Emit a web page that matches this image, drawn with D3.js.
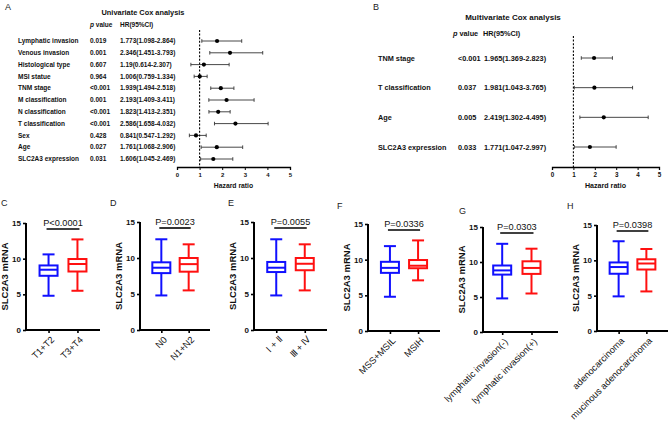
<!DOCTYPE html>
<html>
<head>
<meta charset="utf-8">
<script src="https://cdn.jsdelivr.net/npm/d3@7"></script>
<style>
  body { margin: 0; background: #fff; }
  svg { font-family: Arial, "Liberation Sans", sans-serif; }
</style>
</head>
<body>
<svg id="fig" width="669" height="426"></svg>
<script>
// univariate cox
const uniVars = ['Lymphatic invasion', 'Venous invasion', 'Histological type', 'MSI statue', 'TNM stage',
  'M classification', 'N classification', 'T classification', 'Sex', 'Age', 'SLC2A3 expression'];
const uniP = ['0.019', '0.001', '0.607', '0.964', '<0.001', '0.001', '<0.001', '<0.001', '0.428', '0.027', '0.031'];
const uniHR = [1.773, 2.346, 1.19, 1.006, 1.939, 2.193, 1.823, 2.586, 0.841, 1.761, 1.606];
const uniLo = [1.098, 1.451, 0.614, 0.759, 1.494, 1.409, 1.413, 1.658, 0.547, 1.068, 1.045];
const uniHi = [2.864, 3.793, 2.307, 1.334, 2.518, 3.411, 2.351, 4.032, 1.292, 2.906, 2.469];

// multivariate cox
const multiVars = ['TNM stage', 'T classification', 'Age', 'SLC2A3 expression'];
const multiP = ['<0.001', '0.037', '0.005', '0.033'];
const multiHR = [1.965, 1.981, 2.419, 1.771];
const multiLo = [1.369, 1.043, 1.302, 1.047];
const multiHi = [2.823, 3.765, 4.495, 2.997];

const hrTicks = [0, 1, 2, 3, 4, 5];

// box plots: [min, q1, median, q3, max]
const boxLetters = ['C', 'D', 'E', 'F', 'G', 'H'];
const boxGroups = [
  ['T1+T2', 'T3+T4'],
  ['N0', 'N1+N2'],
  ['\u2160 + \u2161', '\u2162 + \u2163'],
  ['MSS+MSIL', 'MSIH'],
  ['lymphatic invasion(-)', 'lymphatic invasion(+)'],
  ['adenocarcinoma', 'mucinous adenocarcinoma']
];
const boxPText = ['P<0.0001', 'P=0.0023', 'P=0.0055', 'P=0.0336', 'P=0.0303', 'P=0.0398'];
const blueStats = [
  [4.8, 7.6, 8.45, 9.05, 10.6],
  [4.8, 7.9, 8.65, 9.4, 12.6],
  [4.8, 8.05, 8.65, 9.45, 12.6],
  [4.8, 8.15, 8.85, 9.7, 11.9],
  [4.8, 8.2, 8.8, 9.5, 12.6],
  [4.9, 8.1, 9.05, 9.7, 12.7]
];
const redStats = [
  [5.5, 8.2, 9.25, 9.95, 12.7],
  [5.5, 8.1, 9.15, 10.0, 11.9],
  [5.5, 8.3, 9.2, 10.0, 11.9],
  [7.1, 8.8, 9.15, 9.95, 12.7],
  [5.5, 8.3, 9.15, 10.1, 11.9],
  [5.6, 8.7, 9.55, 10.15, 11.6]
];
const mrnaTicks = [0, 5, 10, 15];

const svg = d3.select('#fig');
const ink = '#111';

function letter(txt, x, y) {
  svg.append('text').attr('x', x).attr('y', y).attr('font-size', 9).attr('fill', '#222').text(txt);
}

function forest(o) {
  const g = svg.append('g');
  const x = d3.scaleLinear().domain([0, 5]).range(o.xr);
  const y = d3.scalePoint().domain(o.vars).range(o.yr);
  const fs = o.fs;

  g.append('text')
    .attr('x', o.titleX).attr('y', o.titleY)
    .attr('text-anchor', 'middle')
    .attr('font-weight', 'bold').attr('font-size', o.titleFs).attr('fill', ink)
    .text(o.title);

  const hd = g.append('text').attr('x', o.pHeadX).attr('y', o.headY)
    .attr('font-size', fs).attr('font-weight', 'bold').attr('fill', ink);
  hd.append('tspan').attr('font-style', 'italic').text('p');
  hd.append('tspan').text(' value');
  g.append('text').attr('x', o.hrHeadX).attr('y', o.headY)
    .attr('font-size', fs).attr('font-weight', 'bold').attr('fill', ink)
    .text('HR(95%CI)');

  o.vars.forEach((v, i) => {
    const yy = y(v);
    const row = g.append('g').attr('font-size', fs).attr('font-weight', 'bold').attr('fill', ink);
    row.append('text').attr('x', o.labelX).attr('y', yy).attr('dy', '0.35em').text(v);
    row.append('text').attr('x', o.pX).attr('y', yy).attr('dy', '0.35em').text(o.p[i]);
    row.append('text').attr('x', o.hrX).attr('y', yy).attr('dy', '0.35em')
      .text(`${o.hr[i]}(${o.lo[i]}-${o.hi[i]})`);

    g.append('line')
      .attr('x1', x(o.lo[i])).attr('x2', x(o.hi[i]))
      .attr('y1', yy).attr('y2', yy)
      .attr('stroke', '#333').attr('stroke-width', 0.9);
    [o.lo[i], o.hi[i]].forEach(e => {
      g.append('line')
        .attr('x1', x(e)).attr('x2', x(e))
        .attr('y1', yy - 1.8).attr('y2', yy + 1.8)
        .attr('stroke', '#333').attr('stroke-width', 0.9);
    });
    g.append('circle').attr('cx', x(o.hr[i])).attr('cy', yy).attr('r', 2.1).attr('fill', '#000');
  });

  g.append('line')
    .attr('x1', x(1)).attr('x2', x(1))
    .attr('y1', o.dashTop).attr('y2', o.axisY)
    .attr('stroke', '#000').attr('stroke-width', 1.1)
    .attr('stroke-dasharray', '2,1.6');

  const ax = g.append('g')
    .attr('transform', `translate(0,${o.axisY})`)
    .call(d3.axisBottom(x).tickValues(hrTicks).tickSize(3).tickPadding(3).tickFormat(d3.format('d')));
  ax.select('.domain').attr('stroke', '#000').attr('stroke-width', 1.3);
  ax.selectAll('.tick line').attr('stroke', '#000').attr('stroke-width', 1);
  ax.selectAll('.tick text').attr('font-size', o.tickFs).attr('font-weight', 'bold')
    .attr('font-family', 'Arial, "Liberation Sans", sans-serif').attr('fill', ink);

  g.append('text')
    .attr('x', (x(0) + x(5)) / 2).attr('y', o.axisY + 21)
    .attr('text-anchor', 'middle').attr('font-size', o.tickFs + 0.8).attr('font-weight', 'bold').attr('fill', ink)
    .text('Hazard ratio');
}

forest({
  title: 'Univariate Cox analysis', titleX: 143, titleY: 15, titleFs: 7.4, fs: 6.5, tickFs: 6,
  vars: uniVars, p: uniP, hr: uniHR, lo: uniLo, hi: uniHi,
  xr: [177, 290], yr: [41, 159], axisY: 167, dashTop: 30,
  labelX: 18, pX: 90, hrX: 120, pHeadX: 90, hrHeadX: 120, headY: 27
});

forest({
  title: 'Multivariate Cox analysis', titleX: 513, titleY: 20, titleFs: 8, fs: 7.3, tickFs: 6.3,
  vars: multiVars, p: multiP, hr: multiHR, lo: multiLo, hi: multiHi,
  xr: [552, 659], yr: [58, 147], axisY: 167, dashTop: 36,
  labelX: 378, pX: 458, hrX: 484, pHeadX: 453, hrHeadX: 483, headY: 36
});

letter('A', 5, 10);
letter('B', 373, 10);

// box plot layout: y-axis x, axis end, y(0), y(15), category alignment, letter pos
const boxLayout = [
  { ax: 26, ex: 100, y0: 330, y15: 223, align: 0.5, lx: 1, ly: 206 },
  { ax: 140, ex: 210, y0: 330, y15: 222, align: 0.5, lx: 110, ly: 206 },
  { ax: 254, ex: 327, y0: 330, y15: 222, align: 0.5, lx: 228, ly: 206 },
  { ax: 368, ex: 440, y0: 331, y15: 224, align: 0.5, lx: 337, ly: 209 },
  { ax: 483, ex: 558, y0: 332, y15: 227, align: 0.42, lx: 459, ly: 214 },
  { ax: 597, ex: 668, y0: 331, y15: 225, align: 0.5, lx: 567, ly: 209 }
];
const boxColors = ['#1010ff', '#ff1010'];

boxLetters.forEach((L, k) => {
  const lay = boxLayout[k];
  const g = svg.append('g');
  const x = d3.scalePoint().domain(boxGroups[k]).range([lay.ax, lay.ex]).padding(0.78).align(lay.align);
  const y = d3.scaleLinear().domain([0, 15]).range([lay.y0, lay.y15]);
  const stats = [blueStats[k], redStats[k]];
  const bw = 18, cw = 12;

  boxGroups[k].forEach((grp, j) => {
    const s = stats[j];
    const cx = x(grp);
    const col = boxColors[j];
    const b = g.append('g').attr('stroke', col).attr('stroke-width', 2).attr('fill', 'none');
    b.append('line').attr('x1', cx).attr('x2', cx).attr('y1', y(s[3])).attr('y2', y(s[4]));
    b.append('line').attr('x1', cx).attr('x2', cx).attr('y1', y(s[1])).attr('y2', y(s[0]));
    b.append('line').attr('x1', cx - cw / 2).attr('x2', cx + cw / 2).attr('y1', y(s[4])).attr('y2', y(s[4]));
    b.append('line').attr('x1', cx - cw / 2).attr('x2', cx + cw / 2).attr('y1', y(s[0])).attr('y2', y(s[0]));
    b.append('rect').attr('x', cx - bw / 2).attr('width', bw)
      .attr('y', y(s[3])).attr('height', y(s[1]) - y(s[3])).attr('fill', '#fff');
    b.append('line').attr('x1', cx - bw / 2).attr('x2', cx + bw / 2).attr('y1', y(s[2])).attr('y2', y(s[2]));
  });

  const yAx = g.append('g').attr('transform', `translate(${lay.ax},0)`)
    .call(d3.axisLeft(y).tickValues(mrnaTicks).tickSize(3).tickPadding(2).tickFormat(d3.format('d')));
  yAx.select('.domain').attr('stroke', '#000').attr('stroke-width', 2).attr('d', `M0,${lay.y0}V${lay.y15}`);
  yAx.selectAll('.tick line').attr('stroke', '#000').attr('stroke-width', 1.6);
  yAx.selectAll('.tick text').attr('font-size', 8).attr('font-weight', 'bold').attr('fill', ink)
    .attr('font-family', 'Arial, "Liberation Sans", sans-serif');

  const xAx = g.append('g').attr('transform', `translate(0,${lay.y0})`)
    .call(d3.axisBottom(x).tickSize(3).tickSizeOuter(0).tickFormat(''));
  xAx.select('.domain').attr('stroke', '#000').attr('stroke-width', 2).attr('d', `M${lay.ax},0H${lay.ex}`);
  xAx.selectAll('.tick line').attr('stroke', '#000').attr('stroke-width', 1.6);

  boxGroups[k].forEach(grp => {
    g.append('text')
      .attr('transform', `translate(${x(grp) + 4},${lay.y0 + 8}) rotate(-45)`)
      .attr('text-anchor', 'end').attr('dy', '0.35em')
      .attr('font-size', 9.3).attr('fill', ink)
      .text(grp);
  });

  g.append('text')
    .attr('transform', `translate(${lay.ax - 21},${(lay.y0 + lay.y15) / 2}) rotate(-90)`)
    .attr('text-anchor', 'middle').attr('dy', '0.35em')
    .attr('font-size', 9.5).attr('font-weight', 'bold').attr('fill', ink)
    .text('SLC2A3 mRNA');

  const c1 = x(boxGroups[k][0]), c2 = x(boxGroups[k][1]);
  g.append('line').attr('x1', c1 - 2).attr('x2', c2 + 2)
    .attr('y1', lay.y15 + 6).attr('y2', lay.y15 + 6)
    .attr('stroke', '#000').attr('stroke-width', 1.6);
  g.append('text').attr('x', (c1 + c2) / 2).attr('y', lay.y15 + 3)
    .attr('text-anchor', 'middle').attr('font-size', 9.2).attr('fill', ink)
    .text(boxPText[k]);

  letter(L, lay.lx, lay.ly);
});
</script>
</body>
</html>
